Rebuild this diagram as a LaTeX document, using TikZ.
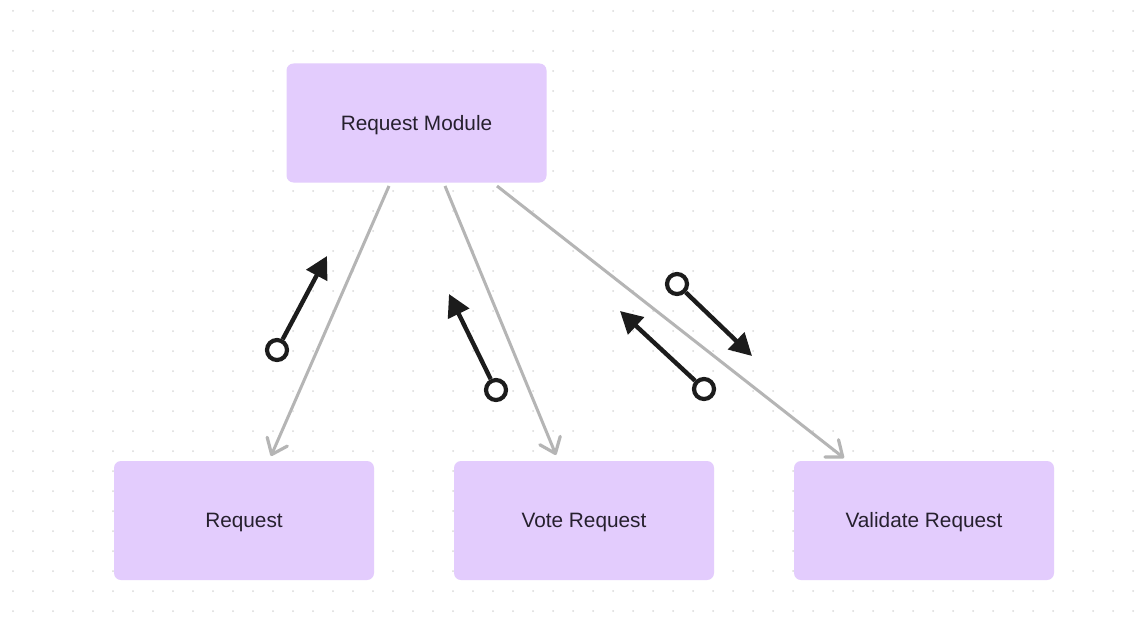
\documentclass[tikz,border=0pt]{standalone}
\usepackage{fontspec}
\setmainfont{Liberation Sans}
\usetikzlibrary{arrows.meta}
\definecolor{boxfill}{HTML}{E3CCFD}
\definecolor{txt}{HTML}{26202E}
\definecolor{grayline}{HTML}{B5B5B5}
\definecolor{dotc}{HTML}{DADADA}
\definecolor{blk}{HTML}{1C1C1C}
\begin{document}
\begin{tikzpicture}[x=1pt,y=-1pt,
  box/.style={draw=none,fill=boxfill,rounded corners=7pt,minimum width=260pt,minimum height=119pt,inner sep=0pt},
  lbl/.style={text=txt,font=\fontsize{20.8}{24}\selectfont,inner sep=0pt},
  rel/.style={draw=grayline,line width=3pt,-{Straight Barb[length=14pt,width=22pt,line width=3.2pt,round]}},
  flowstart/.style={circle,draw=blk,line width=4.2pt,fill=white,minimum size=20pt,inner sep=0pt},
  flow/.style={draw=blk,line width=4.4pt,-{Triangle[length=22pt,width=23pt]}}]
\useasboundingbox (0,0) rectangle (1145,618);
\fill[white] (0,0) rectangle (1145,618);
\foreach \x in {13,33,...,1145} {
  \foreach \y in {11,31,...,618} {
    \fill[dotc] (\x,\y) circle (1pt);
  }
}
\node[box] (rm) at (416.5,123) {};
\node[box] (rq) at (244,520.5) {};
\node[box] (vr) at (584,520.5) {};
\node[box] (va) at (924,520.5) {};
\node[lbl] (rmt) at ([yshift=-2pt]rm.center) {Request Module};
\node[lbl] (rqt) at ([yshift=-2pt]rq.center) {Request};
\node[lbl] (vrt) at ([yshift=-2pt]vr.center) {Vote Request};
\node[lbl] (vat) at ([yshift=-2pt]va.center) {Validate Request};
% gray relations
\coordinate (s1) at (389,186);
\coordinate (e1) at (271,456);
\coordinate (s2) at (445,186);
\coordinate (e2) at (556,455);
\coordinate (s3) at (497,186);
\coordinate (e3) at (844,458);
\draw[rel] (s1) -- (e1);
\draw[rel] (s2) -- (e2);
\draw[rel] (s3) -- (e3);
% black flows
\node[flowstart] (c1) at (277,350) {};
\coordinate (t1) at (327,256);
\node[flowstart] (c2) at (496,390) {};
\coordinate (t2) at (449,294);
\node[flowstart] (c3) at (677,284) {};
\coordinate (t3) at (752,356);
\node[flowstart] (c4) at (704,389) {};
\coordinate (t4) at (620,311);
\draw[flow] (c1) -- (t1);
\draw[flow] (c2) -- (t2);
\draw[flow] (c3) -- (t3);
\draw[flow] (c4) -- (t4);
\end{tikzpicture}
\end{document}
